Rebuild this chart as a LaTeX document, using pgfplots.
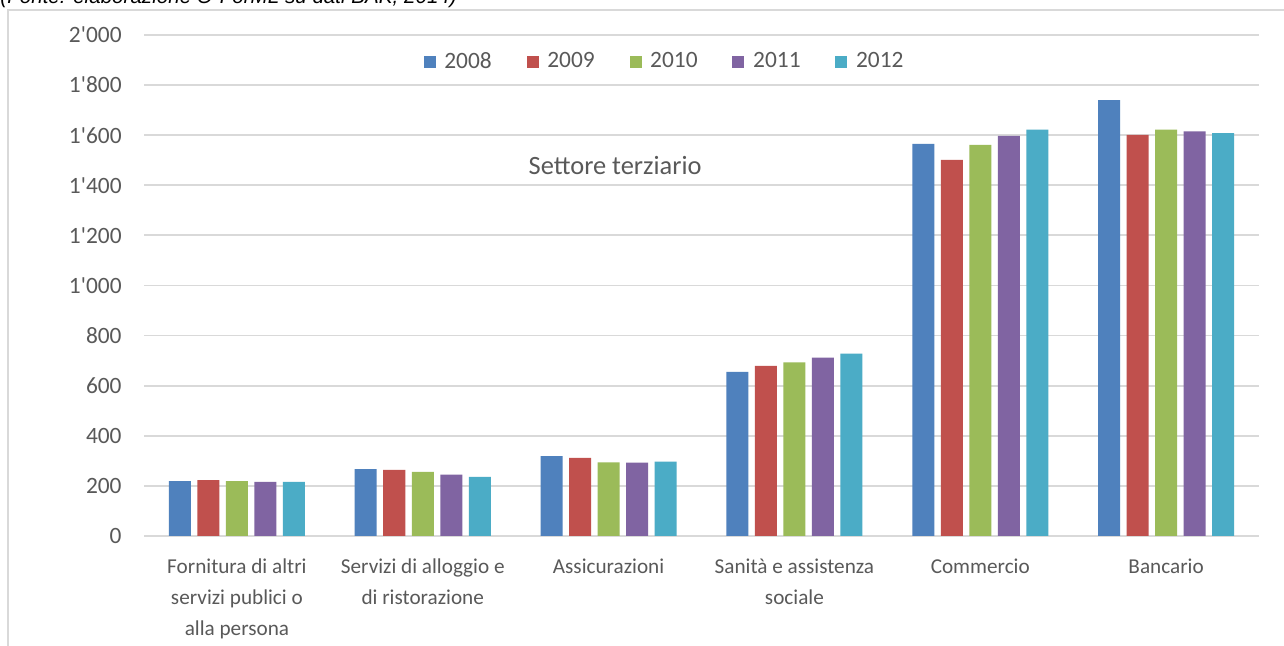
\documentclass[border=0pt]{standalone}
\usepackage{fontspec}
\setmainfont{Carlito}
\newfontfamily\arialfont{Liberation Sans}
\usepackage{pgfplots}
\pgfplotsset{compat=1.18}
\definecolor{cA}{HTML}{4F81BD}
\definecolor{cB}{HTML}{C0504D}
\definecolor{cC}{HTML}{9BBB59}
\definecolor{cD}{HTML}{8064A2}
\definecolor{cE}{HTML}{4BACC6}
\definecolor{txt}{HTML}{595959}
\definecolor{gridc}{HTML}{D9D9D9}
\newcommand{\fl}{\rule{0pt}{8pt}}
\begin{document}
\begin{tikzpicture}
\path[use as bounding box] (0,0) rectangle (642pt,323pt);
\clip (0,0) rectangle (642pt,323pt);
\fill[white] (0,0) rectangle (642pt,323pt);
\node[anchor=base west, inner sep=0pt, font=\arialfont\itshape\fontsize{10.3}{12}\selectfont, text=black] at (0pt,321pt) {(Fonte: elaborazione O-ForML su dati BAK, 2014)};
\draw[gridc, line width=0.9pt] (4pt,-10pt) -- (4pt,318pt) -- (700pt,318pt);
\begin{axis}[
  at={(72pt,55pt)}, anchor=south west,
  scale only axis, width=557.5pt, height=250.5pt,
  ybar=3.25pt, bar width=11pt,
  xmin=-0.5, xmax=5.5, ymin=0, ymax=2000,
  xtick={0,1,2,3,4,5},
  xticklabels={\fl Fornitura di altri\\servizi publici o\\alla persona, \fl Servizi di alloggio e\\di ristorazione, \fl Assicurazioni, \fl Sanità e assistenza\\sociale, \fl Commercio, \fl Bancario},
  ytick={0,200,...,2000},
  axis line style={draw=none},
  major tick length=0pt,
  ymajorgrids,
  major grid style={gridc, line width=0.9pt},
  /pgf/number format/assume math mode=true,
  /pgf/number format/1000 sep={\textquotesingle},
  yticklabel style={font=\fontsize{11.7}{14}\selectfont, text=txt, anchor=east, inner sep=0pt, xshift=-11pt},
  xticklabel style={align=center, font=\fontsize{10.6}{15.3}\selectfont, text=txt, inner sep=0pt, anchor=north, yshift=-10.8pt},
  legend style={at={(0.466,0.947)}, anchor=center, draw=none, fill=none,
    font=\fontsize{11.7}{14}\selectfont, text=txt, legend columns=-1,
    nodes={inner sep=0pt},
    /tikz/every odd column/.append style={column sep=4.35pt},
    /tikz/every even column/.append style={column sep=17.4pt}},
  legend image code/.code={\fill[#1] (0pt,-3.3pt) rectangle (6pt,2.7pt);},
  clip=false,
]
\addplot[fill=cA, draw=none] coordinates {(0,219) (1,267) (2,319) (3,655) (4,1565) (5,1740)};
\addplot[fill=cB, draw=none] coordinates {(0,223) (1,264) (2,312) (3,679) (4,1501) (5,1601)};
\addplot[fill=cC, draw=none] coordinates {(0,219) (1,256) (2,294) (3,693) (4,1561) (5,1622)};
\addplot[fill=cD, draw=none] coordinates {(0,216) (1,245) (2,293) (3,712) (4,1597) (5,1615)};
\addplot[fill=cE, draw=none] coordinates {(0,216) (1,236) (2,297) (3,728) (4,1622) (5,1608)};
\legend{2008,2009,2010,2011,2012}
\node[font=\fontsize{13.2}{16}\selectfont, text=txt] at (axis cs:2.035,1480) {Settore terziario};
\end{axis}
\end{tikzpicture}
\end{document}
